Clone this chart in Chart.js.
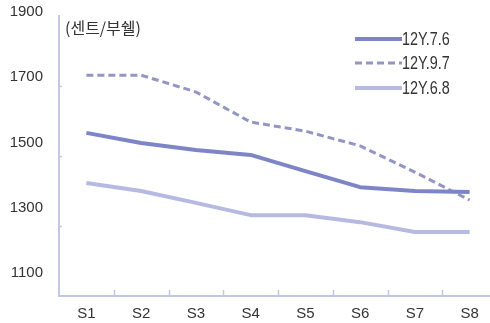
<!DOCTYPE html>
<html>
<head>
<meta charset="utf-8">
<script src="https://cdn.jsdelivr.net/npm/chart.js@4.4.1/dist/chart.umd.min.js"></script>
<style>
  html, body { margin: 0; padding: 0; background: #fff; overflow: hidden; }
  #wrap { position: relative; width: 497px; height: 323px; }
</style>
</head>
<body>
<div id="wrap"><canvas id="c"></canvas></div>
<script>
// Contract months along the curve
const categories = ['S1', 'S2', 'S3', 'S4', 'S5', 'S6', 'S7', 'S8'];

// Price curves (cents per bushel) on three observation dates
const seriesNames = ['12Y.7.6', '12Y.9.7', '12Y.6.8'];
const curveJul6 = [1566, 1537, 1517, 1503, 1457, 1411, 1400, 1397];
const curveSep7 = [1731, 1731, 1683, 1597, 1571, 1529, 1454, 1374];
const curveJun8 = [1423, 1400, 1366, 1331, 1331, 1311, 1283, 1283];

// Y axis range and labelled values
const yMin = 1100;
const yMax = 1900;
const yTickLabels = [1100, 1300, 1500, 1700, 1900];
const unitLabel = '(센트/부쉘)';

const axisColor = '#c3c6e6';
const textColor = '#333333';
const numFont = "'Liberation Sans', Arial, sans-serif";

// Short inward tick marks on both axes
const innerTicks = {
  id: 'innerTicks',
  afterDraw(chart) {
    const { ctx, chartArea } = chart;
    const x = chart.scales.x, y = chart.scales.y;
    ctx.save();
    ctx.strokeStyle = axisColor;
    ctx.lineWidth = 1.5;
    ctx.beginPath();
    for (let i = 1; i < categories.length; i++) {
      const px = Math.round((x.getPixelForValue(i - 1) + x.getPixelForValue(i)) / 2) + 0.5;
      ctx.moveTo(px, chartArea.bottom);
      ctx.lineTo(px, chartArea.bottom - 6);
    }
    for (let v = yMin + 200; v < yMax; v += 200) {
      const py = Math.round(y.getPixelForValue(v)) + 0.5;
      ctx.moveTo(chartArea.left, py);
      ctx.lineTo(chartArea.left + 3, py);
    }
    ctx.stroke();
    ctx.restore();
  }
};

// Stacked legend in the upper right and the unit caption
const sideLegend = {
  id: 'sideLegend',
  afterDraw(chart) {
    const { ctx } = chart;
    ctx.save();
    const x0 = 355, x1 = 402, rows = [39, 63, 88];
    chart.data.datasets.forEach((ds, i) => {
      ctx.strokeStyle = ds.borderColor;
      ctx.lineWidth = ds.borderWidth;
      ctx.setLineDash(ds.borderDash || []);
      ctx.beginPath();
      ctx.moveTo(x0, rows[i]);
      ctx.lineTo(x1, rows[i]);
      ctx.stroke();
      ctx.setLineDash([]);
      // condensed label text
      ctx.save();
      ctx.translate(x1, rows[i] + 1);
      ctx.scale(0.8, 1);
      ctx.fillStyle = textColor;
      ctx.font = "18px " + numFont;
      ctx.textBaseline = 'middle';
      ctx.textAlign = 'left';
      ctx.fillText(ds.label, 0, 0);
      ctx.restore();
    });
    ctx.font = "16px 'Noto Sans CJK KR', sans-serif";
    ctx.fillStyle = textColor;
    ctx.textBaseline = 'middle';
    ctx.textAlign = 'left';
    ctx.fillText(unitLabel, 65, 28);
    ctx.restore();
  }
};

new Chart(document.getElementById('c'), {
  type: 'line',
  data: {
    labels: categories,
    datasets: [
      { label: seriesNames[0], data: curveJul6, borderColor: '#7e85c7', borderWidth: 4, tension: 0 },
      { label: seriesNames[1], data: curveSep7, borderColor: '#9396c2', borderWidth: 3, borderDash: [7, 4], tension: 0 },
      { label: seriesNames[2], data: curveJun8, borderColor: '#b6bae2', borderWidth: 4, tension: 0 }
    ]
  },
  options: {
    responsive: true,
    maintainAspectRatio: false,
    animation: false,
    layout: { padding: { top: 16, right: 0, left: 0, bottom: 0 } },
    elements: { point: { radius: 0 }, line: { borderCapStyle: 'butt', borderJoinStyle: 'round' } },
    plugins: { legend: { display: false }, tooltip: { enabled: false } },
    scales: {
      x: {
        offset: true,
        grid: { display: true, drawOnChartArea: false, drawTicks: false },
        border: { display: true, color: axisColor, width: 2 },
        ticks: { color: textColor, font: { family: numFont, size: 15 }, padding: 9 },
        afterFit(s) { s.height = 27; s.paddingLeft = 0; s.paddingRight = 0; }
      },
      y: {
        position: 'left',
        weight: 0,
        min: yMin,
        max: yMax,
        grid: { display: false, drawTicks: false },
        border: { display: true, color: axisColor, width: 2 },
        ticks: { display: false, stepSize: 200 },
        afterFit(s) { s.width = 1; s.paddingTop = 0; s.paddingBottom = 0; }
      },
      yl: {
        position: 'left',
        weight: 1,
        min: 1029.5,
        max: 1887.7,
        grid: { display: false, drawTicks: false },
        border: { display: false },
        afterBuildTicks(s) { s.ticks = yTickLabels.map(v => ({ value: v })); },
        ticks: {
          autoSkip: false,
          color: textColor,
          font: { family: numFont, size: 15 },
          padding: 15,
          callback: (v) => String(v)
        },
        afterFit(s) { s.width = 58; s.paddingTop = 0; s.paddingBottom = 0; }
      }
    }
  },
  plugins: [innerTicks, sideLegend]
});
</script>
</body>
</html>
